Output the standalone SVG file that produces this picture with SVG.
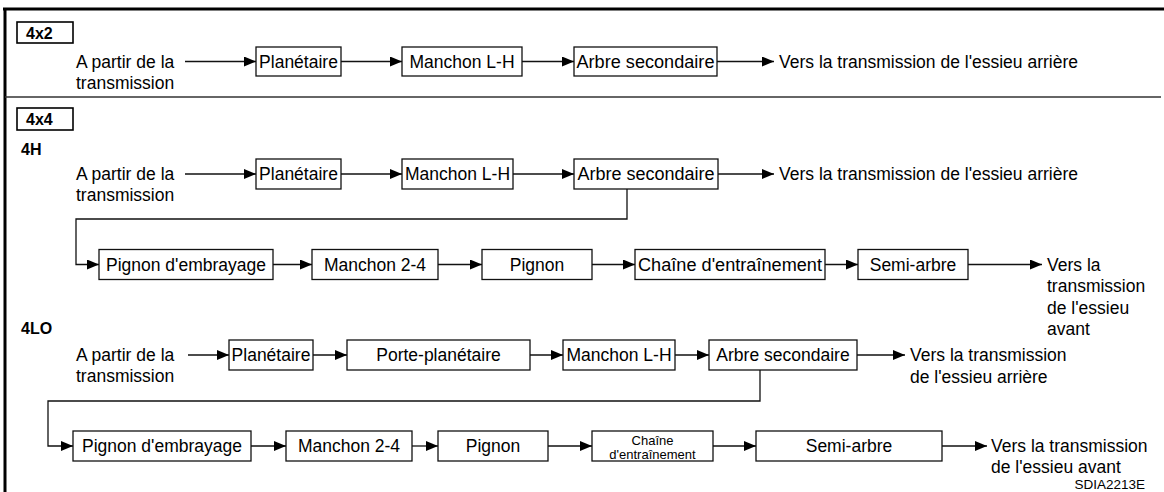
<svg xmlns="http://www.w3.org/2000/svg" width="1164" height="492" viewBox="0 0 1164 492">
<style>
text{font-family:"Liberation Sans",Arial,Helvetica,sans-serif;fill:#000}
.t{font-size:17.5px}
.c{font-size:17.5px;text-anchor:middle}
.s{font-size:13px;text-anchor:middle}
.b{font-size:16px;font-weight:bold}
.bx{fill:#fff;stroke:#111;stroke-width:1.3}
.lb{fill:#fff;stroke:#000;stroke-width:1.6}
.ln{fill:none;stroke:#111;stroke-width:1.3}
.ar{fill:none;stroke:#111;stroke-width:1.3;marker-end:url(#ah)}
</style>
<defs>
<marker id="ah" viewBox="0 0 12 10" refX="12" refY="5" markerWidth="12" markerHeight="10" markerUnits="userSpaceOnUse" orient="auto"><path d="M0,0 L12,5 L0,10 z" fill="#000"/></marker>
</defs>
<rect width="1164" height="492" fill="#fff"/>
<g id="frame">
<line x1="3" y1="9" x2="1164" y2="9" stroke="#000" stroke-width="3"/>
<line x1="5" y1="8" x2="5" y2="492" stroke="#000" stroke-width="3"/>
<line x1="5" y1="97" x2="1161" y2="97" stroke="#333" stroke-width="1.5"/>
</g>
<g id="label-4x2"><rect class="lb" x="17" y="22" width="56" height="21"/><text class="b" x="26" y="38.5">4x2</text></g>
<g id="label-4x4"><rect class="lb" x="17" y="108" width="56" height="22"/><text class="b" x="26" y="125">4x4</text></g>
<g id="label-4H"><text class="b" x="21" y="155">4H</text></g>
<g id="label-4LO"><text class="b" x="21" y="334">4LO</text></g>

<g id="connectors">
<line class="ar" x1="185" y1="61.5" x2="256" y2="61.5"/>
<line class="ar" x1="341" y1="61.5" x2="402" y2="61.5"/>
<line class="ar" x1="522" y1="61.5" x2="574" y2="61.5"/>
<line class="ar" x1="717" y1="61.5" x2="774" y2="61.5"/>

<line class="ar" x1="185" y1="174" x2="256" y2="174"/>
<line class="ar" x1="341" y1="174" x2="402" y2="174"/>
<line class="ar" x1="513" y1="174" x2="574" y2="174"/>
<line class="ar" x1="718" y1="174" x2="774" y2="174"/>
<polyline class="ar" points="627,189 627,219 76,219 76,264.5 99,264.5"/>

<line class="ar" x1="273" y1="264.5" x2="312" y2="264.5"/>
<line class="ar" x1="438" y1="264.5" x2="482" y2="264.5"/>
<line class="ar" x1="592" y1="264.5" x2="635" y2="264.5"/>
<line class="ar" x1="825" y1="264.5" x2="858" y2="264.5"/>
<line class="ar" x1="968" y1="264.5" x2="1042" y2="264.5"/>

<line class="ar" x1="188" y1="355" x2="229" y2="355"/>
<line class="ar" x1="313" y1="355" x2="347" y2="355"/>
<line class="ar" x1="530" y1="355" x2="563" y2="355"/>
<line class="ar" x1="675" y1="355" x2="709" y2="355"/>
<line class="ar" x1="857" y1="355" x2="905" y2="355"/>
<polyline class="ar" points="760,370 760,401 48,401 48,446 73,446"/>

<line class="ar" x1="251" y1="446" x2="286" y2="446"/>
<line class="ar" x1="412" y1="446" x2="438" y2="446"/>
<line class="ar" x1="548" y1="446" x2="592" y2="446"/>
<line class="ar" x1="713" y1="446" x2="756" y2="446"/>
<line class="ar" x1="942" y1="446" x2="987" y2="446"/>
</g>

<!-- 4x2 row -->
<g id="r1-src"><text class="t" x="76" y="67.5">A partir de la</text><text class="t" x="76" y="88.5">transmission</text></g>
<g id="r1-planetaire"><rect class="bx" x="256" y="47" width="85" height="29"/><text class="c" x="298.5" y="67.5">Planétaire</text></g>
<g id="r1-manchon"><rect class="bx" x="402" y="47" width="120" height="29"/><text class="c" x="462" y="67.5">Manchon L-H</text></g>
<g id="r1-arbre"><rect class="bx" x="574" y="47" width="143" height="29"/><text class="c" x="645.5" y="67.5" textLength="138" lengthAdjust="spacingAndGlyphs">Arbre secondaire</text></g>
<g id="r1-dst"><text class="t" x="779" y="67.5">Vers la transmission de l'essieu arrière</text></g>

<!-- 4H row 1 -->
<g id="h1-src"><text class="t" x="76" y="180">A partir de la</text><text class="t" x="76" y="201">transmission</text></g>
<g id="h1-planetaire"><rect class="bx" x="256" y="159" width="85" height="30"/><text class="c" x="298.5" y="180">Planétaire</text></g>
<g id="h1-manchon"><rect class="bx" x="402" y="159" width="111" height="30"/><text class="c" x="457.5" y="180">Manchon L-H</text></g>
<g id="h1-arbre"><rect class="bx" x="574" y="159" width="144" height="30"/><text class="c" x="646" y="180" textLength="137" lengthAdjust="spacingAndGlyphs">Arbre secondaire</text></g>
<g id="h1-dst"><text class="t" x="779" y="180">Vers la transmission de l'essieu arrière</text></g>

<!-- 4H row 2 -->
<g id="h2-pignon-emb"><rect class="bx" x="99" y="249.5" width="174" height="30"/><text class="c" x="186" y="270.5">Pignon d'embrayage</text></g>
<g id="h2-manchon24"><rect class="bx" x="312" y="249.5" width="126" height="30"/><text class="c" x="375" y="270.5">Manchon 2-4</text></g>
<g id="h2-pignon"><rect class="bx" x="482" y="249.5" width="110" height="30"/><text class="c" x="537" y="270.5">Pignon</text></g>
<g id="h2-chaine"><rect class="bx" x="635" y="249.5" width="190" height="30"/><text class="c" x="730" y="270.5" textLength="184" lengthAdjust="spacingAndGlyphs">Chaîne d'entraînement</text></g>
<g id="h2-semi"><rect class="bx" x="858" y="249.5" width="110" height="30"/><text class="c" x="913" y="270.5">Semi-arbre</text></g>
<g id="h2-dst"><text class="t" x="1047" y="271">Vers la</text><text class="t" x="1047" y="292">transmission</text><text class="t" x="1047" y="313.5">de l'essieu</text><text class="t" x="1047" y="335">avant</text></g>

<!-- 4LO row 1 -->
<g id="l1-src"><text class="t" x="76" y="361">A partir de la</text><text class="t" x="76" y="382">transmission</text></g>
<g id="l1-planetaire"><rect class="bx" x="229" y="340" width="84" height="30"/><text class="c" x="271" y="361">Planétaire</text></g>
<g id="l1-porte"><rect class="bx" x="347" y="340" width="183" height="30"/><text class="c" x="438.5" y="361">Porte-planétaire</text></g>
<g id="l1-manchon"><rect class="bx" x="563" y="340" width="112" height="30"/><text class="c" x="619" y="361">Manchon L-H</text></g>
<g id="l1-arbre"><rect class="bx" x="709" y="340" width="148" height="30"/><text class="c" x="783" y="361">Arbre secondaire</text></g>
<g id="l1-dst"><text class="t" x="910" y="361">Vers la transmission</text><text class="t" x="910" y="382.5">de l'essieu arrière</text></g>

<!-- 4LO row 2 -->
<g id="l2-pignon-emb"><rect class="bx" x="73" y="431" width="178" height="30"/><text class="c" x="162" y="452">Pignon d'embrayage</text></g>
<g id="l2-manchon24"><rect class="bx" x="286" y="431" width="126" height="30"/><text class="c" x="349" y="452">Manchon 2-4</text></g>
<g id="l2-pignon"><rect class="bx" x="438" y="431" width="110" height="30"/><text class="c" x="493" y="452">Pignon</text></g>
<g id="l2-chaine"><rect class="bx" x="592" y="431" width="121" height="30"/><text class="s" x="652.5" y="445">Chaîne</text><text class="s" x="652.5" y="459">d'entraînement</text></g>
<g id="l2-semi"><rect class="bx" x="756" y="431" width="186" height="30"/><text class="c" x="849" y="452">Semi-arbre</text></g>
<g id="l2-dst"><text class="t" x="991" y="452">Vers la transmission</text><text class="t" x="991" y="472.5">de l'essieu avant</text></g>

<g id="code"><text x="1145" y="489" font-size="13.5" text-anchor="end">SDIA2213E</text></g>
</svg>
